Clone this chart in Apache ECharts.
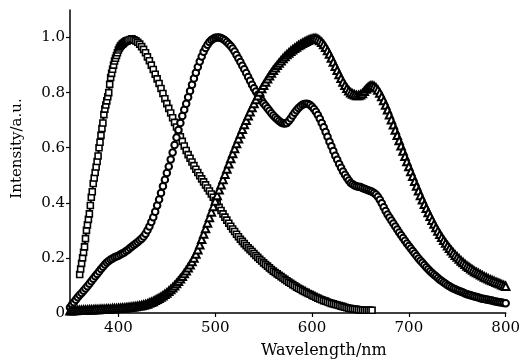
<!DOCTYPE html>
<html>
<head>
<meta charset="utf-8">
<script src="https://cdn.jsdelivr.net/npm/echarts@6/dist/echarts.min.js"></script>
<style>
  html, body { margin: 0; padding: 0; background: #fff; }
  #chart { width: 523px; height: 364px; }
</style>
</head>
<body>
<div id="chart"></div>
<script>
// x tick labels / y tick labels
const xTicks = [400, 500, 600, 700, 800];
const yTicks = [0, 0.2, 0.4, 0.6, 0.8, 1.0];

// squares: [wavelength nm, intensity]
const squareData = [
  [360,0.14],[361,0.16],[362,0.18],[363,0.20],[364,0.22],[365,0.24],[366,0.27],[367,0.30],[368,0.32],[369,0.34],
  [370,0.36],[371,0.39],[372,0.42],[373,0.44],[374,0.47],[375,0.49],[376,0.51],[377,0.53],[378,0.55],[379,0.57],
  [380,0.60],[381,0.62],[382,0.645],[383,0.67],[384,0.69],[385,0.72],[386,0.74],[387,0.755],[388,0.77],[389,0.785],
  [390,0.80],[391,0.83],[392,0.855],[393,0.87],[394,0.885],[395,0.90],[396,0.915],[397,0.925],[398,0.935],[399,0.945],
  [400,0.955],[401,0.962],[402,0.968],[403,0.972],[404,0.976],[405,0.979],[406,0.982],[407,0.985],[408,0.987],[409,0.988],
  [410,0.99],[412,0.993],[414,0.995],[416,0.992],[418,0.988],[420,0.983],[422,0.976],[424,0.967],[426,0.957],[428,0.945],
  [430,0.93],[432,0.916],[434,0.90],[436,0.884],[438,0.867],[440,0.85],[442,0.833],[444,0.815],[446,0.797],[448,0.778],
  [450,0.76],[452,0.743],[454,0.726],[456,0.709],[458,0.692],[460,0.675],[462,0.657],[464,0.64],[466,0.623],[468,0.606],
  [470,0.59],[472,0.575],[474,0.562],[476,0.548],[478,0.535],[480,0.522],[482,0.51],[484,0.498],[486,0.487],[488,0.476],
  [490,0.465],[492,0.454],[494,0.443],[496,0.432],[498,0.42],[500,0.408],[502,0.396],[504,0.384],[506,0.372],[508,0.36],
  [510,0.348],[512,0.337],[514,0.326],[516,0.315],[518,0.305],[520,0.296],[522,0.286],[524,0.277],[526,0.268],[528,0.26],
  [530,0.252],[532,0.244],[534,0.237],[536,0.23],[538,0.223],[540,0.216],[542,0.209],[544,0.202],[546,0.195],[548,0.189],
  [550,0.182],[552,0.176],[554,0.17],[556,0.164],[558,0.158],[560,0.152],[562,0.147],[564,0.142],[566,0.137],[568,0.132],
  [570,0.127],[572,0.122],[574,0.117],[576,0.112],[578,0.108],[580,0.103],[582,0.099],[584,0.094],[586,0.09],[588,0.086],
  [590,0.082],[592,0.078],[594,0.075],[596,0.071],[598,0.068],[600,0.064],[602,0.061],[604,0.057],[606,0.054],[608,0.051],
  [610,0.048],[612,0.045],[614,0.043],[616,0.04],[618,0.037],[620,0.035],[622,0.033],[624,0.031],[626,0.029],[628,0.027],
  [630,0.025],[632,0.023],[634,0.021],[636,0.019],[638,0.017],[640,0.016],[642,0.015],[644,0.014],[646,0.013],[648,0.012],
  [650,0.011],[652,0.011],[654,0.01],[656,0.01],[658,0.01],[660,0.01],[662,0.01]
];

// circles
const circleData = [
  [350,0.02],[352,0.03],[354,0.039],[356,0.048],[358,0.057],[360,0.065],[362,0.073],[364,0.081],[366,0.089],[368,0.097],
  [370,0.106],[372,0.115],[374,0.124],[376,0.133],[378,0.142],[380,0.151],[382,0.16],[384,0.168],[386,0.176],[388,0.183],
  [390,0.189],[392,0.194],[394,0.198],[396,0.202],[398,0.205],[400,0.208],[402,0.212],[404,0.216],[406,0.22],[408,0.225],
  [410,0.23],[412,0.236],[414,0.241],[416,0.247],[418,0.252],[420,0.258],[422,0.264],[424,0.27],[426,0.278],[428,0.288],
  [430,0.3],[432,0.314],[434,0.33],[436,0.348],[438,0.368],[440,0.39],[442,0.412],[444,0.436],[446,0.46],[448,0.484],
  [450,0.508],[452,0.532],[454,0.557],[456,0.583],[458,0.61],[460,0.637],[462,0.664],[464,0.69],[466,0.715],[468,0.738],
  [470,0.76],[472,0.783],[474,0.806],[476,0.829],[478,0.851],[480,0.872],[482,0.893],[484,0.913],[486,0.931],[488,0.948],
  [490,0.962],[492,0.974],[494,0.984],[496,0.991],[498,0.996],[500,0.999],[502,1.0],[504,1.0],[506,0.998],[508,0.995],
  [510,0.99],[512,0.984],[514,0.977],[516,0.969],[518,0.96],[520,0.949],[522,0.937],[524,0.924],[526,0.911],[528,0.898],
  [530,0.885],[532,0.871],[534,0.857],[536,0.843],[538,0.829],[540,0.816],[542,0.804],[544,0.792],[546,0.781],[548,0.771],
  [550,0.761],[552,0.752],[554,0.743],[556,0.734],[558,0.725],[560,0.717],[562,0.71],[564,0.703],[566,0.697],[568,0.692],
  [570,0.689],[572,0.688],[574,0.69],[576,0.697],[578,0.706],[580,0.717],[582,0.727],[584,0.736],[586,0.744],[588,0.751],
  [590,0.756],[592,0.759],[594,0.76],[596,0.759],[598,0.755],[600,0.749],[602,0.741],[604,0.731],[606,0.719],[608,0.705],
  [610,0.69],[612,0.674],[614,0.657],[616,0.64],[618,0.622],[620,0.605],[622,0.588],[624,0.571],[626,0.556],[628,0.541],
  [630,0.527],[632,0.514],[634,0.502],[636,0.491],[638,0.481],[640,0.472],[642,0.467],[644,0.463],[646,0.46],[648,0.458],
  [650,0.457],[652,0.454],[654,0.451],[656,0.448],[658,0.446],[660,0.443],[662,0.44],[664,0.436],[666,0.43],[668,0.422],
  [670,0.411],[672,0.398],[674,0.384],[676,0.37],[678,0.358],[680,0.347],[682,0.336],[684,0.325],[686,0.314],[688,0.303],
  [690,0.292],[692,0.282],[694,0.272],[696,0.262],[698,0.252],[700,0.243],[702,0.234],[704,0.225],[706,0.216],[708,0.207],
  [710,0.198],[712,0.19],[714,0.182],[716,0.174],[718,0.166],[720,0.159],[722,0.152],[724,0.145],[726,0.139],[728,0.133],
  [730,0.127],[732,0.121],[734,0.116],[736,0.111],[738,0.106],[740,0.101],[742,0.097],[744,0.093],[746,0.089],[748,0.086],
  [750,0.083],[752,0.08],[754,0.077],[756,0.074],[758,0.071],[760,0.068],[762,0.066],[764,0.064],[766,0.062],[768,0.06],
  [770,0.058],[772,0.056],[774,0.054],[776,0.052],[778,0.051],[780,0.049],[782,0.048],[784,0.046],[786,0.045],[788,0.043],
  [790,0.042],[792,0.04],[794,0.039],[796,0.038],[798,0.036],[800,0.035]
];

// triangles
const triangleData = [
  [350,0.008],[352,0.008],[354,0.009],[356,0.009],[358,0.01],[360,0.01],[362,0.01],[364,0.011],[366,0.011],[368,0.011],
  [370,0.012],[372,0.012],[374,0.012],[376,0.013],[378,0.013],[380,0.013],[382,0.014],[384,0.014],[386,0.014],[388,0.015],
  [390,0.015],[392,0.015],[394,0.016],[396,0.016],[398,0.016],[400,0.017],[402,0.017],[404,0.018],[406,0.018],[408,0.019],
  [410,0.02],[412,0.021],[414,0.022],[416,0.023],[418,0.024],[420,0.025],[422,0.026],[424,0.027],[426,0.029],[428,0.031],
  [430,0.033],[432,0.036],[434,0.039],[436,0.042],[438,0.046],[440,0.05],[442,0.054],[444,0.058],[446,0.063],[448,0.068],
  [450,0.073],[452,0.079],[454,0.085],[456,0.092],[458,0.099],[460,0.107],[462,0.115],[464,0.124],[466,0.133],[468,0.143],
  [470,0.153],[472,0.164],[474,0.175],[476,0.187],[478,0.2],[480,0.214],[482,0.23],[484,0.248],[486,0.268],[488,0.287],
  [490,0.307],[492,0.327],[494,0.347],[496,0.367],[498,0.387],[500,0.407],[502,0.427],[504,0.447],[506,0.466],[508,0.485],
  [510,0.504],[512,0.523],[514,0.542],[516,0.561],[518,0.579],[520,0.597],[522,0.615],[524,0.633],[526,0.65],[528,0.667],
  [530,0.684],[532,0.7],[534,0.716],[536,0.731],[538,0.746],[540,0.761],[542,0.775],[544,0.789],[546,0.802],[548,0.815],
  [550,0.827],[552,0.839],[554,0.85],[556,0.861],[558,0.871],[560,0.881],[562,0.89],[564,0.899],[566,0.908],[568,0.916],
  [570,0.924],[572,0.931],[574,0.938],[576,0.944],[578,0.95],[580,0.956],[582,0.961],[584,0.966],[586,0.971],[588,0.975],
  [590,0.979],[592,0.983],[594,0.987],[596,0.99],[598,0.993],[600,0.995],[602,0.997],[604,0.997],[606,0.994],[608,0.989],
  [610,0.983],[612,0.975],[614,0.965],[616,0.953],[618,0.94],[620,0.926],[622,0.911],[624,0.896],[626,0.881],[628,0.866],
  [630,0.852],[632,0.839],[634,0.827],[636,0.816],[638,0.807],[640,0.8],[642,0.795],[644,0.792],[646,0.79],[648,0.79],
  [650,0.792],[652,0.797],[654,0.805],[656,0.813],[658,0.82],[660,0.824],[662,0.825],[664,0.823],[666,0.818],[668,0.81],
  [670,0.799],[672,0.786],[674,0.771],[676,0.755],[678,0.738],[680,0.72],[682,0.702],[684,0.683],[686,0.664],[688,0.645],
  [690,0.626],[692,0.607],[694,0.588],[696,0.569],[698,0.55],[700,0.532],[702,0.514],[704,0.496],[706,0.478],[708,0.461],
  [710,0.444],[712,0.427],[714,0.411],[716,0.395],[718,0.38],[720,0.365],[722,0.351],[724,0.337],[726,0.323],[728,0.31],
  [730,0.298],[732,0.286],[734,0.275],[736,0.264],[738,0.254],[740,0.244],[742,0.235],[744,0.226],[746,0.218],[748,0.21],
  [750,0.203],[752,0.196],[754,0.189],[756,0.183],[758,0.177],[760,0.171],[762,0.166],[764,0.161],[766,0.156],[768,0.151],
  [770,0.147],[772,0.143],[774,0.139],[776,0.135],[778,0.131],[780,0.128],[782,0.124],[784,0.121],[786,0.118],[788,0.115],
  [790,0.112],[792,0.109],[794,0.106],[796,0.103],[798,0.1],[800,0.097]
];

const FONT = 'DejaVu Serif';

function markerSeries(data, symbol, size, border) {
  return {
    type: 'line',
    data: data,
    symbol: symbol,
    symbolSize: size,
    showAllSymbol: true,
    lineStyle: { color: '#000', width: 2 },
    itemStyle: { color: '#fff', borderColor: '#000', borderWidth: border },
    emphasis: { disabled: true }
  };
}

const chart = echarts.init(document.getElementById('chart'));
chart.setOption({
  animation: false,
  grid: { left: 70, right: 15, top: 10, bottom: 48 },
  xAxis: {
    type: 'value',
    min: 350,
    max: 800,
    name: 'Wavelength/nm',
    nameLocation: 'middle',
    nameGap: 30,
    nameTextStyle: { fontFamily: FONT, fontSize: 16, color: '#000', padding: [0, 0, 0, 72] },
    splitLine: { show: false },
    axisLine: { lineStyle: { color: '#000', width: 1.5 } },
    axisTick: { length: 4, lineStyle: { color: '#000', width: 1.2 }, customValues: xTicks },
    axisLabel: { customValues: xTicks, fontFamily: FONT, fontSize: 15, color: '#000', margin: 8 }
  },
  yAxis: {
    type: 'value',
    min: 0,
    max: 1.1,
    name: 'Intensity/a.u.',
    nameLocation: 'middle',
    nameGap: 45,
    nameTextStyle: { fontFamily: FONT, fontSize: 15, color: '#000', padding: [0, 0, 0, 26] },
    splitLine: { show: false },
    axisLine: { show: true, lineStyle: { color: '#000', width: 1.5 } },
    axisTick: { show: true, length: 4, lineStyle: { color: '#000', width: 1.2 }, customValues: yTicks },
    axisLabel: {
      customValues: yTicks,
      fontFamily: FONT, fontSize: 15, color: '#000', margin: 5,
      formatter: v => (v === 0 ? '0' : v.toFixed(1))
    }
  },
  series: [
    markerSeries(squareData, 'rect', 6, 1.6),
    markerSeries(circleData, 'circle', 6.5, 2),
    markerSeries(triangleData, 'triangle', 7.5, 2)
  ]
});
</script>
</body>
</html>
